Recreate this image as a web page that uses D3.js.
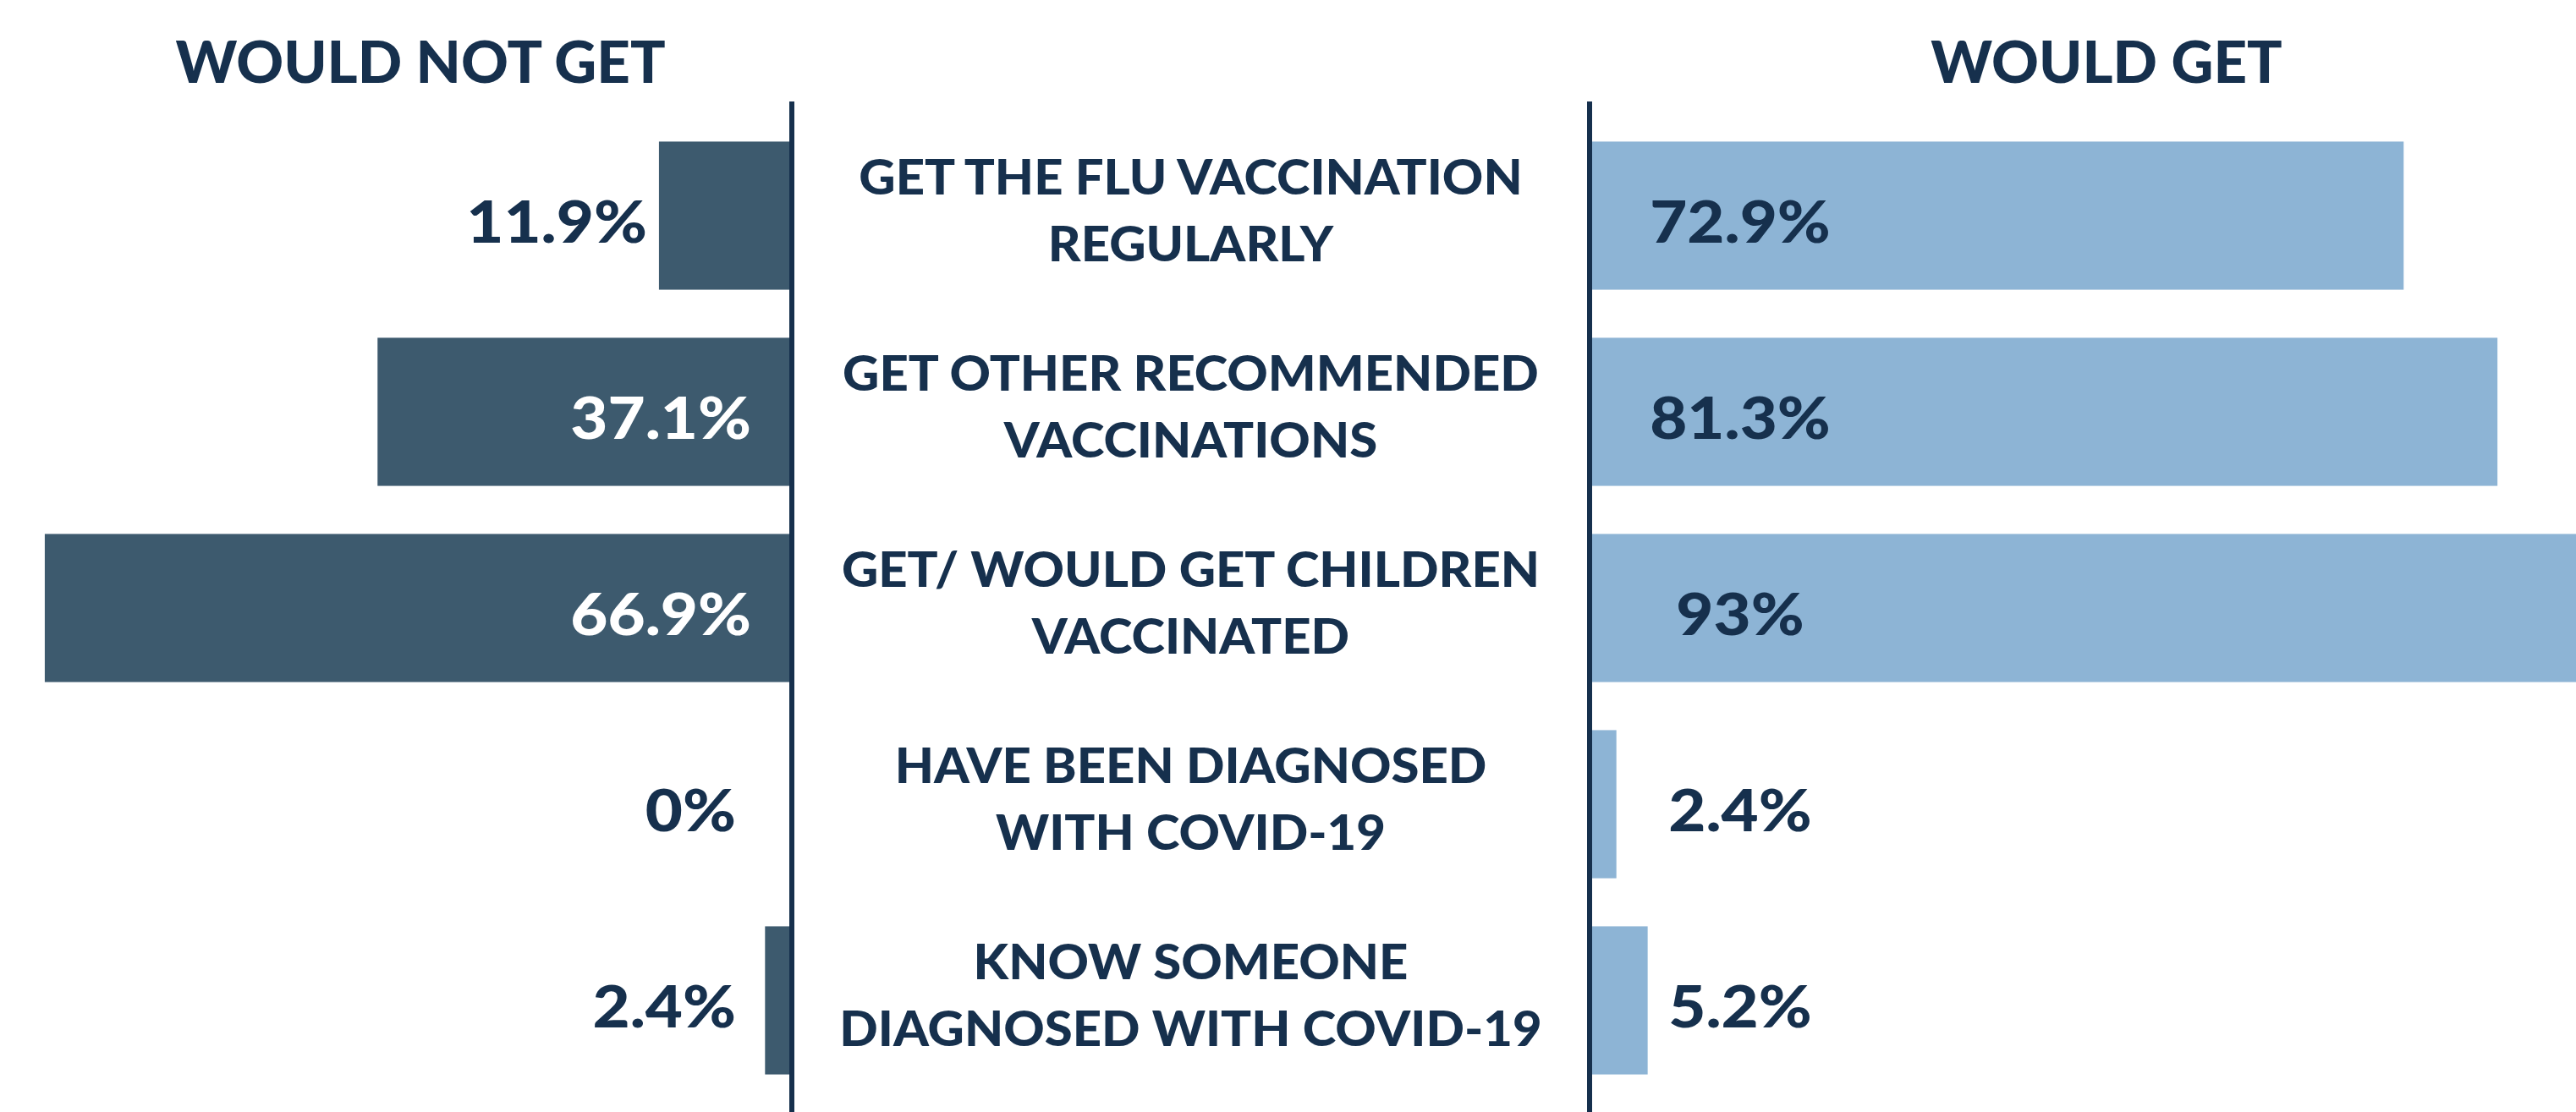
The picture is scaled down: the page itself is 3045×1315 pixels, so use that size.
<!DOCTYPE html>
<html>
<head>
<meta charset="utf-8">
<script src="https://cdn.jsdelivr.net/npm/d3@7"></script>
<style>
  html, body { margin: 0; padding: 0; background: #ffffff; }
  svg { display: block; }
</style>
</head>
<body>
<svg id="chart" width="3045" height="1315"></svg>
<script>
// ---- data ----
const categories = [
  ["GET THE FLU VACCINATION", "REGULARLY"],
  ["GET OTHER RECOMMENDED", "VACCINATIONS"],
  ["GET/ WOULD GET CHILDREN", "VACCINATED"],
  ["HAVE BEEN DIAGNOSED", "WITH COVID-19"],
  ["KNOW SOMEONE", "DIAGNOSED WITH COVID-19"]
];
const wouldNotGet = [11.9, 37.1, 66.9, 0, 2.4];
const wouldGet = [72.9, 81.3, 93, 2.4, 5.2];
const headerLeft = "WOULD NOT GET";
const headerRight = "WOULD GET";

// ---- style ----
const W = 3045, H = 1315;
const navy = "#16304d";
const darkBar = "#3d5a6e";
const lightBar = "#8db4d5";
const font = "Lato, 'Open Sans', sans-serif";

const svg = d3.select("#chart");

const axisL = 936, axisR = 1879, lineW = 6;
const pxPerPct = 13.2;

const y = d3.scaleBand()
  .domain(d3.range(categories.length))
  .range([139, 1299])
  .paddingInner(0.245)
  .paddingOuter(0.1225);

const xL = d3.scaleLinear().domain([0, 100]).range([0, 100 * pxPerPct]);
const xR = d3.scaleLinear().domain([0, 100]).range([0, 100 * pxPerPct]);

const fmt = v => v + "%";

// left bars
svg.append("g").selectAll("rect")
  .data(wouldNotGet)
  .join("rect")
  .attr("x", d => axisL - xL(d))
  .attr("y", (d, i) => y(i))
  .attr("width", d => xL(d))
  .attr("height", y.bandwidth())
  .attr("fill", darkBar);

// right bars
svg.append("g").selectAll("rect")
  .data(wouldGet)
  .join("rect")
  .attr("x", axisR)
  .attr("y", (d, i) => y(i))
  .attr("width", d => xR(d))
  .attr("height", y.bandwidth())
  .attr("fill", lightBar);

// axis lines
[axisL, axisR].forEach(x => {
  svg.append("line")
    .attr("x1", x).attr("x2", x)
    .attr("y1", 120).attr("y2", H)
    .attr("stroke", navy)
    .attr("stroke-width", lineW);
});

function squeeze(sel, factor) {
  sel.each(function () {
    const n = this.getComputedTextLength();
    d3.select(this).attr("textLength", n * factor).attr("lengthAdjust", "spacingAndGlyphs");
  });
  return sel;
}

// headers
svg.append("text")
  .attr("x", 497).attr("y", 98)
  .attr("text-anchor", "middle")
  .attr("font-family", font).attr("font-weight", 900)
  .attr("font-size", 69)
  .attr("fill", navy)
  .text(headerLeft)
  .call(squeeze, 1.0);

svg.append("text")
  .attr("x", 2490).attr("y", 98)
  .attr("text-anchor", "middle")
  .attr("font-family", font).attr("font-weight", 900)
  .attr("font-size", 69)
  .attr("fill", navy)
  .text(headerRight)
  .call(squeeze, 1.0);

// category labels
const mid = (axisL + axisR) / 2;
const catG = svg.append("g");
categories.forEach((lines, i) => {
  const cy = y(i) + y.bandwidth() / 2;
  lines.forEach((ln, j) => {
    catG.append("text")
      .attr("x", mid)
      .attr("y", cy - 46 + j * 79)
      .attr("dy", "0.36em")
      .attr("text-anchor", "middle")
      .attr("font-family", font).attr("font-weight", 900)
      .attr("font-size", 57)
      .attr("fill", navy)
      .text(ln)
      .call(squeeze, 1.05);
  });
});

// value labels left
const labelSize = 68;
wouldNotGet.forEach((v, i) => {
  const cy = y(i) + y.bandwidth() / 2 + 8;
  const w = xL(v);
  const inside = w > 300;
  const x = inside ? axisL - 48 : Math.min(axisL - w - 14, axisL - 66);
  svg.append("text")
    .attr("x", x).attr("y", cy)
    .attr("dy", "0.36em")
    .attr("text-anchor", "end")
    .attr("font-family", font).attr("font-weight", 900)
    .attr("font-size", labelSize)
    .attr("fill", inside ? "#ffffff" : navy)
    .text(fmt(v))
    .call(squeeze, 1.12);
});

// value labels right
wouldGet.forEach((v, i) => {
  const cy = y(i) + y.bandwidth() / 2 + 8;
  const w = xR(v);
  const inside = w > 300;
  const t = svg.append("text")
    .attr("y", cy)
    .attr("dy", "0.36em")
    .attr("text-anchor", "middle")
    .attr("font-family", font).attr("font-weight", 900)
    .attr("font-size", labelSize)
    .attr("fill", navy)
    .text(fmt(v))
    .call(squeeze, 1.12);
  const tw = +t.attr("textLength");
  t.attr("x", inside ? axisR + 178 : Math.max(axisR + 178, axisR + w + 24 + tw / 2));
});
</script>
</body>
</html>
